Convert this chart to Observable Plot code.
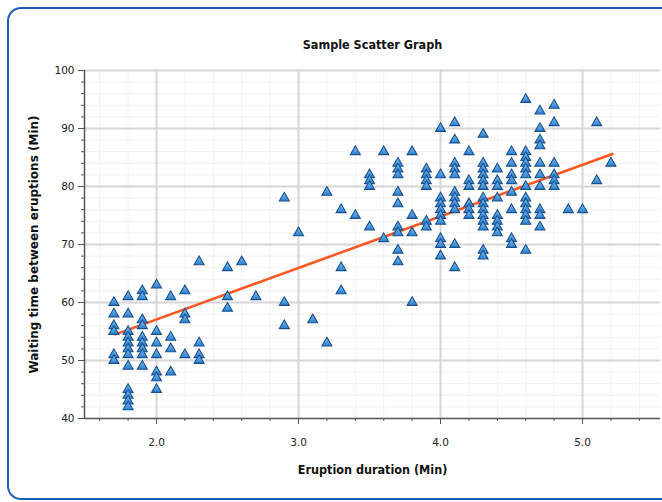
<!DOCTYPE html>
<html>
<head>
<meta charset="utf-8">
<script src="https://cdn.jsdelivr.net/npm/d3@7"></script>
<script src="https://cdn.jsdelivr.net/npm/@observablehq/plot@0.6"></script>
<style>
  html, body { margin: 0; padding: 0; background: #fff; }
  #wrap { position: relative; width: 662px; height: 502px; overflow: hidden; }
  #frame { position: absolute; left: 7px; top: 7px; width: 700px; height: 493px; box-sizing: border-box;
           border: 2px solid #1d5fb5; border-radius: 14px; pointer-events: none; }
</style>
</head>
<body>
<div id="wrap"><div id="frame"></div></div>
<script>
const title = "Sample Scatter Graph";
const xLabel = "Eruption duration (Min)";
const yLabel = "Waiting time between eruptions (Min)";

// eruption durations (Min) and waiting times read per column
const durations = [1.7, 1.8, 1.9, 2.0, 2.1, 2.2, 2.3, 2.5, 2.6, 2.7, 2.9, 3.0, 3.1, 3.2, 3.3, 3.4, 3.5, 3.6,
                   3.7, 3.8, 3.9, 4.0, 4.1, 4.2, 4.3, 4.4, 4.5, 4.6, 4.7, 4.8, 4.9, 5.0, 5.1, 5.2];
const waitingByDuration = [
  [60, 58, 56, 55, 51, 50],
  [61, 58, 55, 54, 53, 52, 51, 49, 45, 44, 43, 42],
  [62, 61, 57, 56, 54, 53, 52, 51, 49],
  [63, 55, 53, 51, 48, 47, 45],
  [61, 54, 52, 48],
  [62, 58, 57, 51],
  [67, 53, 51, 50],
  [66, 61, 59],
  [67],
  [61],
  [78, 60, 56],
  [72],
  [57],
  [79, 53],
  [76, 66, 62],
  [86, 75],
  [82, 81, 80, 73],
  [86, 71],
  [84, 83, 82, 79, 77, 73, 72, 69, 67],
  [86, 75, 72, 60],
  [83, 82, 81, 80, 74, 73],
  [90, 82, 78, 77, 76, 75, 74, 71, 70, 68],
  [91, 88, 84, 83, 82, 79, 78, 77, 76, 70, 66],
  [86, 81, 80, 77, 76, 75],
  [89, 84, 83, 82, 81, 80, 78, 77, 76, 75, 74, 73, 69, 68],
  [83, 81, 80, 78, 75, 74, 73, 72],
  [86, 84, 82, 81, 79, 76, 71, 70],
  [95, 86, 85, 84, 83, 82, 80, 78, 77, 76, 75, 74, 69],
  [93, 90, 88, 87, 84, 82, 80, 76, 75, 73],
  [94, 91, 84, 82, 81, 80],
  [76],
  [76],
  [91, 81],
  [84]
];

// fitted trend line endpoints as drawn
const trendX = [1.71, 5.21];
const trendY = [54.5, 85.6];

const xMajorTicks = [2.0, 3.0, 4.0, 5.0];
const xMinorTicks = [1.6, 1.8, 2.2, 2.4, 2.6, 2.8, 3.2, 3.4, 3.6, 3.8, 4.2, 4.4, 4.6, 4.8, 5.2, 5.4];
const yMajorTicks = [40, 50, 60, 70, 80, 90, 100];
const yMinorTicks = [42, 44, 46, 48, 52, 54, 56, 58, 62, 64, 66, 68, 72, 74, 76, 78, 82, 84, 86, 88, 92, 94, 96, 98];

const points = durations.flatMap((d, i) => waitingByDuration[i].map(w => ({duration: d, waiting: w})));
const trend = trendX.map((x, i) => ({x, y: trendY[i]}));

const tickFont = "DejaVu Sans, sans-serif";
const chart = Plot.plot({
  width: 662,
  height: 502,
  marginLeft: 84,
  marginRight: 2,
  marginTop: 70,
  marginBottom: 84,
  style: {fontFamily: tickFont, fontSize: "10.5px", color: "#222", background: "transparent", overflow: "visible"},
  x: {domain: [1.493, 5.549]},
  y: {domain: [40, 100]},
  marks: [
    Plot.ruleX(xMinorTicks, {stroke: "#f1f1f1", strokeWidth: 1}),
    Plot.ruleY(yMinorTicks, {stroke: "#f1f1f1", strokeWidth: 1}),
    Plot.ruleX(xMajorTicks, {stroke: "#d6d6d6", strokeWidth: 2}),
    Plot.ruleY(yMajorTicks.filter(v => v > 40), {stroke: "#d6d6d6", strokeWidth: 2}),
    Plot.axisX(xMinorTicks, {tickSize: 3, tickFormat: () => "", stroke: "#555", label: null}),
    Plot.axisY(yMinorTicks, {tickSize: 3, tickFormat: () => "", stroke: "#555", label: null}),
    Plot.axisX(xMajorTicks, {tickSize: 6, tickPadding: 14, tickFormat: d3.format(".1f"), stroke: "#555", label: null}),
    Plot.axisY(yMajorTicks, {tickSize: 6, tickPadding: 4, stroke: "#555", label: null}),
    Plot.ruleX([1.493], {stroke: "#555", strokeWidth: 1.5}),
    Plot.ruleY([40], {stroke: "#555", strokeWidth: 1.5}),
    Plot.line(trend, {x: "x", y: "y", stroke: "#ff5722", strokeWidth: 2.6}),
    Plot.dot(points, {x: "duration", y: "waiting", symbol: "triangle", r: 3.7, fill: "url(#triGrad)", stroke: "#1a4f8c", strokeWidth: 1.1}),
    Plot.text([title], {text: d => d, frameAnchor: "top", dy: -30, fontFamily: "DejaVu Sans Condensed, DejaVu Sans, sans-serif", fontWeight: "bold", fontSize: 12.5, fill: "#111"}),
    Plot.text([xLabel], {text: d => d, frameAnchor: "bottom", dy: 55, fontFamily: "DejaVu Sans Condensed, DejaVu Sans, sans-serif", fontWeight: "bold", fontSize: 12.5, fill: "#111"}),
    Plot.text([yLabel], {text: d => d, frameAnchor: "left", dx: -50, rotate: -90, textAnchor: "middle", fontFamily: "DejaVu Sans, sans-serif", fontWeight: "bold", fontSize: 12, fill: "#111"})
  ]
});

const ns = "http://www.w3.org/2000/svg";
const defs = document.createElementNS(ns, "defs");
defs.innerHTML = '<linearGradient id="triGrad" x1="0" y1="0" x2="0" y2="1">' +
  '<stop offset="0" stop-color="#7cc0f2"/><stop offset="1" stop-color="#2a80cf"/></linearGradient>';
chart.insertBefore(defs, chart.firstChild);
chart.style.position = "absolute";
chart.style.left = "0";
chart.style.top = "0";
document.getElementById("wrap").insertBefore(chart, document.getElementById("frame"));
</script>
</body>
</html>
